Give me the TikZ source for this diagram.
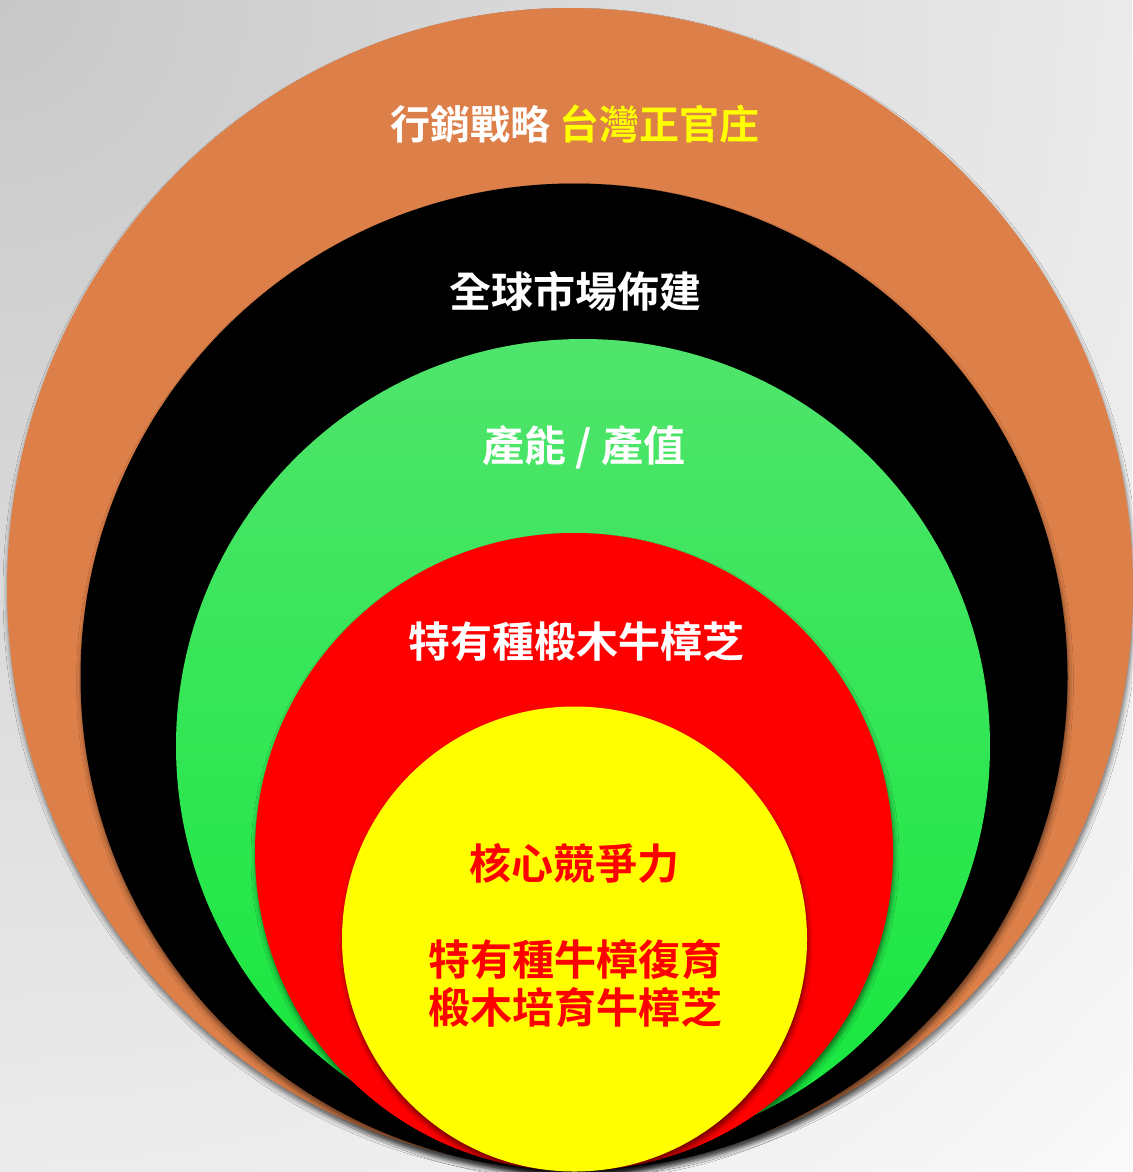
\documentclass[tikz,border=0pt]{standalone}
\usepackage{fontspec}
\setmainfont{Noto Sans CJK TC}[BoldFont={Noto Sans CJK TC Bold}]
\usetikzlibrary{shapes.geometric,shadows.blur}
\definecolor{bgray}{RGB}{200,200,200}
\definecolor{orangeC}{RGB}{221,127,72}
\definecolor{greenTop}{RGB}{80,228,108}
\definecolor{greenBot}{RGB}{20,232,60}
\definecolor{pureyellow}{RGB}{255,255,0}
\definecolor{pured}{RGB}{255,0,0}
\tikzset{
  disc/.style={circle, inner sep=0pt, outer sep=0pt, draw=none,
    blur shadow={shadow xshift=1pt, shadow yshift=-5pt, shadow blur radius=5pt, shadow opacity=55}},
  label/.style={font=\fontsize{42}{48}\selectfont\bfseries, align=center, inner sep=0pt},
}
\begin{document}
\begin{tikzpicture}[x=1pt,y=-1pt]
\useasboundingbox (0,0) rectangle (1132,1172);
\begin{scope}
  \clip (0,0) rectangle (1132,1172);
  \fill[white] (0,0) rectangle (1132,1172);
  \shade[inner color=bgray, outer color=white] (-1800,-1800) rectangle (1800,1800);
\end{scope}
\node[disc, ellipse, minimum width=1126pt, minimum height=1160pt, fill=orangeC] (orange) at (570,588) {};
\node[disc, minimum size=987pt, fill=black] (black) at (574,677) {};
\node[disc, minimum size=814pt, top color=greenTop, bottom color=greenBot] (green) at (583,746) {};
\node[disc, minimum size=638pt, fill=pured] (red) at (574,852) {};
\node[disc, minimum size=465pt, fill=pureyellow] (yellow) at (574.5,939) {};

\node[label, font=\fontsize{40}{48}\selectfont\bfseries, text=white] (t1) at (575,124) {行銷戰略 \textcolor{pureyellow}{台灣正官庄}};
\node[label, text=white] (t2) at (575,291) {全球市場佈建};
\node[label, text=white] (t3) at (584,447) {產能 / 產值};
\node[label, text=white] (t4) at (576,641) {特有種椴木牛樟芝};
\node[label, text=pured] (t5) at (574,863) {核心競爭力};
\node[label, text=pured] (t6) at (575,984) {特有種牛樟復育\\椴木培育牛樟芝};
\end{tikzpicture}
\end{document}
